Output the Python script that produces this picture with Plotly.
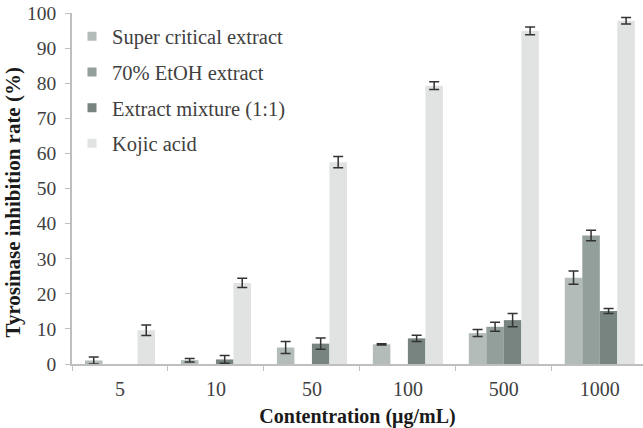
import plotly.graph_objects as go

categories = ["5", "10", "50", "100", "500", "1000"]
series_names = ["Super critical extract", "70% EtOH extract", "Extract mixture (1:1)", "Kojic acid"]
super_critical = [1.0, 1.1, 4.7, 5.6, 8.8, 24.6]
super_critical_err = [1.0, 0.5, 1.7, 0.2, 1.0, 1.9]
etoh70 = [None, None, None, None, 10.6, 36.6]
etoh70_err = [None, None, None, None, 1.3, 1.5]
mixture = [None, 1.3, 5.8, 7.3, 12.5, 15.1]
mixture_err = [None, 1.1, 1.6, 0.9, 1.9, 0.7]
kojic = [9.6, 23.1, 57.5, 79.3, 94.9, 97.8]
kojic_err = [1.5, 1.3, 1.6, 1.1, 1.1, 0.9]
y_ticks = [0, 10, 20, 30, 40, 50, 60, 70, 80, 90, 100]

colors = ["#b4bcb9", "#939f9b", "#77847f", "#e0e3e2"]
values = [super_critical, etoh70, mixture, kojic]
errors = [super_critical_err, etoh70_err, mixture_err, kojic_err]

SERIF = "Liberation Serif, Times New Roman, serif"

fig = go.Figure()
for name, vals, errs, col in zip(series_names, values, errors, colors):
    fig.add_trace(go.Bar(
        x=categories, y=vals, name=name, marker_color=col, marker_line_width=0,
        error_y=dict(type="data", array=errs, visible=True, color="#333333",
                     thickness=1.5, width=5),
        showlegend=False, hoverinfo="skip",
    ))
# legend entries (small square symbols like the original)
for i, (name, col) in enumerate(zip(series_names, colors)):
    fig.add_trace(go.Scatter(
        x=[None], y=[None], mode="markers", name=name,
        marker=dict(symbol="square", size=9, color=col),
        legendgroup=f"g{i}", showlegend=True,
    ))

fig.update_layout(
    width=643, height=428,
    margin=dict(l=72, r=0, t=13, b=64),
    paper_bgcolor="white", plot_bgcolor="white",
    barmode="group", bargap=0.27, bargroupgap=0,
    font=dict(family=SERIF, size=20, color="#404040"),
    xaxis=dict(type="category", categoryorder="array", categoryarray=categories,
               range=[-0.5, 5.45],
               showline=True, linecolor="#bfbfbf", linewidth=1.5,
               ticks="outside", tickson="boundaries", ticklen=5, tickcolor="#bfbfbf",
               ticklabelstandoff=6,
               showgrid=False, zeroline=False,
               tickfont=dict(family=SERIF, size=20, color="#404040"),
               title=dict(text="<b>Contentration (μg/mL)</b>",
                          font=dict(family=SERIF, size=20, color="#1a1a1a"),
                          standoff=12)),
    yaxis=dict(range=[0, 100], tickvals=y_ticks, showline=True, linecolor="#bfbfbf",
               linewidth=1.5, ticks="outside", ticklen=5, tickcolor="#bfbfbf",
               ticklabelstandoff=5,
               showgrid=False, zeroline=False,
               tickfont=dict(family=SERIF, size=19.5, color="#404040")),
    legend=dict(x=0.0, y=0.99, xanchor="left", yanchor="top",
                bgcolor="rgba(0,0,0,0)", traceorder="grouped", tracegroupgap=6,
                font=dict(family=SERIF, size=20.5, color="#404040"),
                itemwidth=30),
    annotations=[dict(text="<b>Tyrosinase inhibition rate (%)</b>",
                      xref="paper", yref="paper", x=-0.1033, y=0.46,
                      xanchor="center", yanchor="middle", textangle=-90,
                      showarrow=False,
                      font=dict(family=SERIF, size=21, color="#1a1a1a"))],
    showlegend=True,
)

fig.write_html("out.html")
